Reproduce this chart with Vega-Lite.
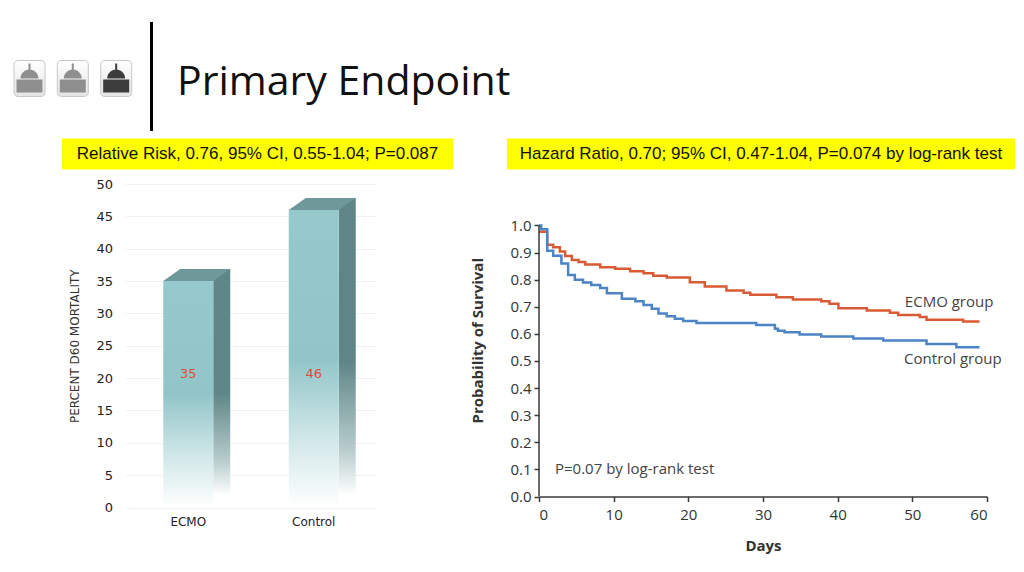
{
  "$schema": "https://vega.github.io/schema/vega-lite/v6.json",
  "background": "white",
  "padding": {"left": 13.5, "top": 20, "right": 5, "bottom": 5},
  "bounds": "flush",
  "spacing": 162.5,
  "config": {"view": {"stroke": null}, "font": "DejaVu Sans"},
  "hconcat": [
    {
      "width": 251,
      "height": 323.5,
      "resolve": {"scale": {"x": "independent", "y": "independent"}, "axis": {"x": "independent", "y": "independent"}},
      "layer": [
        {
          "data": {"values": [{"group": "ECMO", "mortality": 35}, {"group": "Control", "mortality": 46}]},
          "encoding": {
            "x": {"field": "group", "type": "nominal", "sort": ["ECMO", "Control"], "scale": {"paddingInner": 0, "paddingOuter": 0},
              "axis": {"title": null, "domain": false, "ticks": false, "labelAngle": 0, "labelPadding": 9, "labelFontSize": 12, "labelColor": "#222", "labelFont": "DejaVu Sans"}},
            "y": {"field": "mortality", "type": "quantitative", "scale": {"domain": [0, 50], "nice": false},
              "axis": {"values": [0, 5, 10, 15, 20, 25, 30, 35, 40, 45, 50], "title": "PERCENT D60 MORTALITY", "titleFont": "DejaVu Sans", "titleFontSize": 12, "titleFontWeight": "normal", "titleColor": "#333", "titlePadding": 14, "labelFontSize": 13, "labelColor": "#222", "labelPadding": 13, "domain": false, "ticks": false, "grid": true, "gridColor": "#f1f1f1"}}
          },
          "layer": [
            {"mark": {"type": "bar", "width": 17, "xOffset": 33.5, "yOffset": -12,
              "fill": {"gradient": "linear", "x1": 0, "y1": 0, "x2": 0, "y2": 1, "stops": [{"offset": 0, "color": "#5f8687"}, {"offset": 0.55, "color": "#5f8687"}, {"offset": 0.85, "color": "#b9cdcd"}, {"offset": 1, "color": "#ffffff"}]}}},
            {"mark": {"type": "bar", "width": 50,
              "fill": {"gradient": "linear", "x1": 0, "y1": 0, "x2": 0, "y2": 1, "stops": [{"offset": 0, "color": "#96c9cc"}, {"offset": 0.5, "color": "#92c5c8"}, {"offset": 0.78, "color": "#d2e8e9"}, {"offset": 1, "color": "#ffffff"}]}}},
            {"mark": {"type": "point", "shape": "M-25,0L25,0L42,-12L-8,-12Z", "size": 4, "filled": true, "fill": "#6e9899", "strokeWidth": 0, "opacity": 1}},
            {"mark": {"type": "text", "color": "#e5463b", "fontSize": 13, "font": "DejaVu Sans"},
              "encoding": {"y": {"datum": 20.7, "type": "quantitative", "scale": {"domain": [0, 50], "nice": false},
                "axis": {"values": [0, 5, 10, 15, 20, 25, 30, 35, 40, 45, 50], "title": "PERCENT D60 MORTALITY", "titleFont": "DejaVu Sans", "titleFontSize": 12, "titleFontWeight": "normal", "titleColor": "#333", "titlePadding": 14, "labelFontSize": 13, "labelColor": "#222", "labelPadding": 13, "domain": false, "ticks": false, "grid": true, "gridColor": "#f1f1f1"}},
                "text": {"field": "mortality", "type": "quantitative"}}}
          ]
        },
        {
          "data": {"values": [{}]},
          "layer": [
            {"mark": {"type": "rule", "color": "#000000", "strokeWidth": 3},
              "encoding": {"x": {"datum": 0.1036, "type": "quantitative", "scale": {"domain": [0, 1], "nice": false, "zero": false}, "axis": null}, "y": {"datum": 75.04, "type": "quantitative", "scale": {"domain": [0, 50], "nice": false, "zero": false}, "axis": null}, "y2": {"datum": 58.19}}},
            {"mark": {"type": "rect", "cornerRadius": 4, "stroke": "#c8c8c8", "strokeWidth": 1, "fill": {"gradient": "linear", "x1": 0, "y1": 0, "x2": 0, "y2": 1, "stops": [{"offset": 0, "color": "#ffffff"}, {"offset": 1, "color": "#e4e4e4"}]}},
              "encoding": {"x": {"datum": -0.4442, "type": "quantitative", "scale": {"domain": [0, 1], "nice": false, "zero": false}, "axis": null}, "x2": {"datum": -0.3207}, "y": {"datum": 69.09, "type": "quantitative", "scale": {"domain": [0, 50], "nice": false, "zero": false}, "axis": null}, "y2": {"datum": 63.52}}},
            {"mark": {"type": "rect", "cornerRadius": 4, "stroke": "#c8c8c8", "strokeWidth": 1, "fill": {"gradient": "linear", "x1": 0, "y1": 0, "x2": 0, "y2": 1, "stops": [{"offset": 0, "color": "#ffffff"}, {"offset": 1, "color": "#e4e4e4"}]}},
              "encoding": {"x": {"datum": -0.2717, "type": "quantitative", "scale": {"domain": [0, 1], "nice": false, "zero": false}, "axis": null}, "x2": {"datum": -0.1482}, "y": {"datum": 69.09, "type": "quantitative", "scale": {"domain": [0, 50], "nice": false, "zero": false}, "axis": null}, "y2": {"datum": 63.52}}},
            {"mark": {"type": "rect", "cornerRadius": 4, "stroke": "#c8c8c8", "strokeWidth": 1, "fill": {"gradient": "linear", "x1": 0, "y1": 0, "x2": 0, "y2": 1, "stops": [{"offset": 0, "color": "#ffffff"}, {"offset": 1, "color": "#e4e4e4"}]}},
              "encoding": {"x": {"datum": -0.0988, "type": "quantitative", "scale": {"domain": [0, 1], "nice": false, "zero": false}, "axis": null}, "x2": {"datum": 0.0247}, "y": {"datum": 69.09, "type": "quantitative", "scale": {"domain": [0, 50], "nice": false, "zero": false}, "axis": null}, "y2": {"datum": 63.52}}},
            {"mark": {"type": "point", "shape": "M-1,-15H1V-9H-1Z M-9,0A9,9 0 0 1 9,0Z M-13,1H13V14H-13Z", "size": 4, "filled": true, "fill": "#8f8f8f", "strokeWidth": 0, "opacity": 1},
              "encoding": {"x": {"datum": -0.3825, "type": "quantitative", "scale": {"domain": [0, 1], "nice": false, "zero": false}, "axis": null}, "y": {"datum": 66.31, "type": "quantitative", "scale": {"domain": [0, 50], "nice": false, "zero": false}, "axis": null}}},
            {"mark": {"type": "point", "shape": "M-1,-15H1V-9H-1Z M-9,0A9,9 0 0 1 9,0Z M-13,1H13V14H-13Z", "size": 4, "filled": true, "fill": "#8f8f8f", "strokeWidth": 0, "opacity": 1},
              "encoding": {"x": {"datum": -0.2100, "type": "quantitative", "scale": {"domain": [0, 1], "nice": false, "zero": false}, "axis": null}, "y": {"datum": 66.31, "type": "quantitative", "scale": {"domain": [0, 50], "nice": false, "zero": false}, "axis": null}}},
            {"mark": {"type": "point", "shape": "M-1,-15H1V-9H-1Z M-9,0A9,9 0 0 1 9,0Z M-13,1H13V14H-13Z", "size": 4, "filled": true, "fill": "#3c3c3c", "strokeWidth": 0, "opacity": 1},
              "encoding": {"x": {"datum": -0.0371, "type": "quantitative", "scale": {"domain": [0, 1], "nice": false, "zero": false}, "axis": null}, "y": {"datum": 66.31, "type": "quantitative", "scale": {"domain": [0, 50], "nice": false, "zero": false}, "axis": null}}},
            {"mark": {"type": "text", "text": "Primary Endpoint", "align": "left", "baseline": "alphabetic", "font": "Open Sans", "fontSize": 41, "fontWeight": 500, "color": "#111111"},
              "encoding": {"x": {"datum": 0.2052, "type": "quantitative", "scale": {"domain": [0, 1], "nice": false, "zero": false}, "axis": null}, "y": {"datum": 63.68, "type": "quantitative", "scale": {"domain": [0, 50], "nice": false, "zero": false}, "axis": null}}},
            {"mark": {"type": "rect", "fill": "#ffff00"},
              "encoding": {"x": {"datum": -0.2530, "type": "quantitative", "scale": {"domain": [0, 1], "nice": false, "zero": false}, "axis": null}, "x2": {"datum": 1.3048}, "y": {"datum": 57.03, "type": "quantitative", "scale": {"domain": [0, 50], "nice": false, "zero": false}, "axis": null}, "y2": {"datum": 52.24}}},
            {"mark": {"type": "text", "text": "Relative Risk, 0.76, 95% CI, 0.55-1.04; P=0.087", "align": "center", "baseline": "middle", "font": "Liberation Sans", "fontSize": 17, "color": "#111111"},
              "encoding": {"x": {"datum": 0.5259, "type": "quantitative", "scale": {"domain": [0, 1], "nice": false, "zero": false}, "axis": null}, "y": {"datum": 54.64, "type": "quantitative", "scale": {"domain": [0, 50], "nice": false, "zero": false}, "axis": null}}}
          ]
        }
      ]
    },
    {
      "width": 448,
      "height": 312.5,
      "resolve": {"scale": {"x": "independent", "y": "independent"}, "axis": {"x": "independent", "y": "independent"}},
      "layer": [
        {
          "data": {"values": [
            {"group": "ECMO", "day": 0, "surv": 0.977},
            {"group": "ECMO", "day": 1.1, "surv": 0.929},
            {"group": "ECMO", "day": 1.9, "surv": 0.92},
            {"group": "ECMO", "day": 2.8, "surv": 0.904},
            {"group": "ECMO", "day": 3.5, "surv": 0.887},
            {"group": "ECMO", "day": 4.4, "surv": 0.873},
            {"group": "ECMO", "day": 5.3, "surv": 0.865},
            {"group": "ECMO", "day": 6.2, "surv": 0.856},
            {"group": "ECMO", "day": 8.2, "surv": 0.846},
            {"group": "ECMO", "day": 10.2, "surv": 0.84},
            {"group": "ECMO", "day": 12.2, "surv": 0.831},
            {"group": "ECMO", "day": 14.0, "surv": 0.824},
            {"group": "ECMO", "day": 15.3, "surv": 0.815},
            {"group": "ECMO", "day": 17.1, "surv": 0.808},
            {"group": "ECMO", "day": 20.2, "surv": 0.791},
            {"group": "ECMO", "day": 22.2, "surv": 0.775},
            {"group": "ECMO", "day": 25.1, "surv": 0.76},
            {"group": "ECMO", "day": 27.4, "surv": 0.752},
            {"group": "ECMO", "day": 28.3, "surv": 0.744},
            {"group": "ECMO", "day": 31.8, "surv": 0.735},
            {"group": "ECMO", "day": 34.0, "surv": 0.727},
            {"group": "ECMO", "day": 37.8, "surv": 0.72},
            {"group": "ECMO", "day": 38.9, "surv": 0.711},
            {"group": "ECMO", "day": 40.1, "surv": 0.695},
            {"group": "ECMO", "day": 43.9, "surv": 0.686},
            {"group": "ECMO", "day": 47.0, "surv": 0.678},
            {"group": "ECMO", "day": 48.1, "surv": 0.67},
            {"group": "ECMO", "day": 51.0, "surv": 0.662},
            {"group": "ECMO", "day": 51.9, "surv": 0.652},
            {"group": "ECMO", "day": 56.8, "surv": 0.646},
            {"group": "ECMO", "day": 59.0, "surv": 0.646},
            {"group": "Control", "day": 0, "surv": 1.0},
            {"group": "Control", "day": 0.3, "surv": 0.986},
            {"group": "Control", "day": 1.1, "surv": 0.907},
            {"group": "Control", "day": 1.9, "surv": 0.888},
            {"group": "Control", "day": 3.0, "surv": 0.86},
            {"group": "Control", "day": 3.9, "surv": 0.817},
            {"group": "Control", "day": 4.8, "surv": 0.8},
            {"group": "Control", "day": 5.9, "surv": 0.79},
            {"group": "Control", "day": 7.0, "surv": 0.78},
            {"group": "Control", "day": 8.2, "surv": 0.769},
            {"group": "Control", "day": 9.1, "surv": 0.75},
            {"group": "Control", "day": 11.1, "surv": 0.73},
            {"group": "Control", "day": 12.9, "surv": 0.72},
            {"group": "Control", "day": 14.0, "surv": 0.707},
            {"group": "Control", "day": 15.1, "surv": 0.693},
            {"group": "Control", "day": 16.0, "surv": 0.675},
            {"group": "Control", "day": 17.1, "surv": 0.665},
            {"group": "Control", "day": 18.2, "surv": 0.656},
            {"group": "Control", "day": 19.3, "surv": 0.648},
            {"group": "Control", "day": 21.1, "surv": 0.64},
            {"group": "Control", "day": 29.1, "surv": 0.633},
            {"group": "Control", "day": 31.6, "surv": 0.619},
            {"group": "Control", "day": 32.0, "surv": 0.612},
            {"group": "Control", "day": 32.9, "surv": 0.606},
            {"group": "Control", "day": 34.9, "surv": 0.598},
            {"group": "Control", "day": 37.8, "surv": 0.59},
            {"group": "Control", "day": 42.1, "surv": 0.583},
            {"group": "Control", "day": 46.1, "surv": 0.576},
            {"group": "Control", "day": 51.9, "surv": 0.563},
            {"group": "Control", "day": 55.9, "surv": 0.551},
            {"group": "Control", "day": 59.0, "surv": 0.551}
          ]},
          "mark": {"type": "line", "interpolate": "step-after", "strokeWidth": 2.5},
          "encoding": {
            "x": {"field": "day", "type": "quantitative", "scale": {"domain": [0, 60], "nice": false, "zero": false},
              "axis": {"values": [0, 10, 20, 30, 40, 50, 60], "title": "Days", "titleFont": "Open Sans", "titleFontSize": 15, "titleFontWeight": "bold", "titleColor": "#333", "titlePadding": 16, "labelFont": "Open Sans", "labelFontSize": 15, "labelColor": "#333", "labelPadding": 6, "tickSize": 5, "tickColor": "#3a3a3a", "tickWidth": 1.5, "domainColor": "#3a3a3a", "domainWidth": 1.5, "grid": false}},
            "y": {"field": "surv", "type": "quantitative", "scale": {"domain": [0, 1.1531], "nice": false, "zero": false},
              "axis": {"values": [0, 0.1, 0.2, 0.3, 0.4, 0.5, 0.6, 0.7, 0.8, 0.9, 1.0], "format": ".1f", "title": "Probability of Survival", "titleFont": "Open Sans", "titleFontSize": 15, "titleFontWeight": "bold", "titleColor": "#333", "titlePadding": 24, "labelFont": "Open Sans", "labelFontSize": 15, "labelColor": "#333", "labelPadding": 3, "tickSize": 5, "tickColor": "#3a3a3a", "tickWidth": 1.5, "domain": false, "grid": false}},
            "color": {"field": "group", "type": "nominal", "scale": {"domain": ["ECMO", "Control"], "range": ["#d95b35", "#4c84c6"]}, "legend": null}
          }
        },
        {
          "data": {"values": [{}]},
          "layer": [
            {
              "mark": {"type": "rule", "color": "#3a3a3a", "strokeWidth": 1.5},
              "encoding": {"x": {"datum": 0, "type": "quantitative", "scale": {"domain": [0, 60], "nice": false, "zero": false}, "axis": null}, "y": {"datum": 0, "type": "quantitative", "scale": {"domain": [0, 1.1531], "nice": false, "zero": false}, "axis": null}, "y2": {"datum": 1}}
            },
            {
              "mark": {"type": "text", "text": "P=0.07 by log-rank test", "align": "left", "baseline": "middle", "font": "Open Sans", "fontSize": 15, "color": "#444444"},
              "encoding": {"x": {"datum": 2.14, "type": "quantitative", "scale": {"domain": [0, 60], "nice": false, "zero": false}, "axis": null}, "y": {"datum": 0.1033, "type": "quantitative", "scale": {"domain": [0, 1.1531], "nice": false, "zero": false}, "axis": null}}
            },
            {
              "mark": {"type": "text", "text": "ECMO group", "align": "left", "baseline": "middle", "font": "Open Sans", "fontSize": 15, "color": "#444444"},
              "encoding": {"x": {"datum": 49.0, "type": "quantitative", "scale": {"domain": [0, 60], "nice": false, "zero": false}, "axis": null}, "y": {"datum": 0.716, "type": "quantitative", "scale": {"domain": [0, 1.1531], "nice": false, "zero": false}, "axis": null}}
            },
            {
              "mark": {"type": "text", "text": "Control group", "align": "left", "baseline": "middle", "font": "Open Sans", "fontSize": 15, "color": "#444444"},
              "encoding": {"x": {"datum": 48.9, "type": "quantitative", "scale": {"domain": [0, 60], "nice": false, "zero": false}, "axis": null}, "y": {"datum": 0.509, "type": "quantitative", "scale": {"domain": [0, 1.1531], "nice": false, "zero": false}, "axis": null}}
            },
            {
              "mark": {"type": "rect", "fill": "#ffff00"},
              "encoding": {"x": {"datum": -4.286, "type": "quantitative", "scale": {"domain": [0, 60], "nice": false, "zero": false}, "axis": null}, "x2": {"datum": 63.75}, "y": {"datum": 1.321, "type": "quantitative", "scale": {"domain": [0, 1.1531], "nice": false, "zero": false}, "axis": null}, "y2": {"datum": 1.2066}}
            },
            {
              "mark": {"type": "text", "text": "Hazard Ratio, 0.70; 95% CI, 0.47-1.04, P=0.074 by log-rank test", "align": "center", "baseline": "middle", "font": "Liberation Sans", "fontSize": 17, "color": "#111111"},
              "encoding": {"x": {"datum": 29.73, "type": "quantitative", "scale": {"domain": [0, 60], "nice": false, "zero": false}, "axis": null}, "y": {"datum": 1.2638, "type": "quantitative", "scale": {"domain": [0, 1.1531], "nice": false, "zero": false}, "axis": null}}
            }
          ]
        }
      ]
    }
  ]
}
